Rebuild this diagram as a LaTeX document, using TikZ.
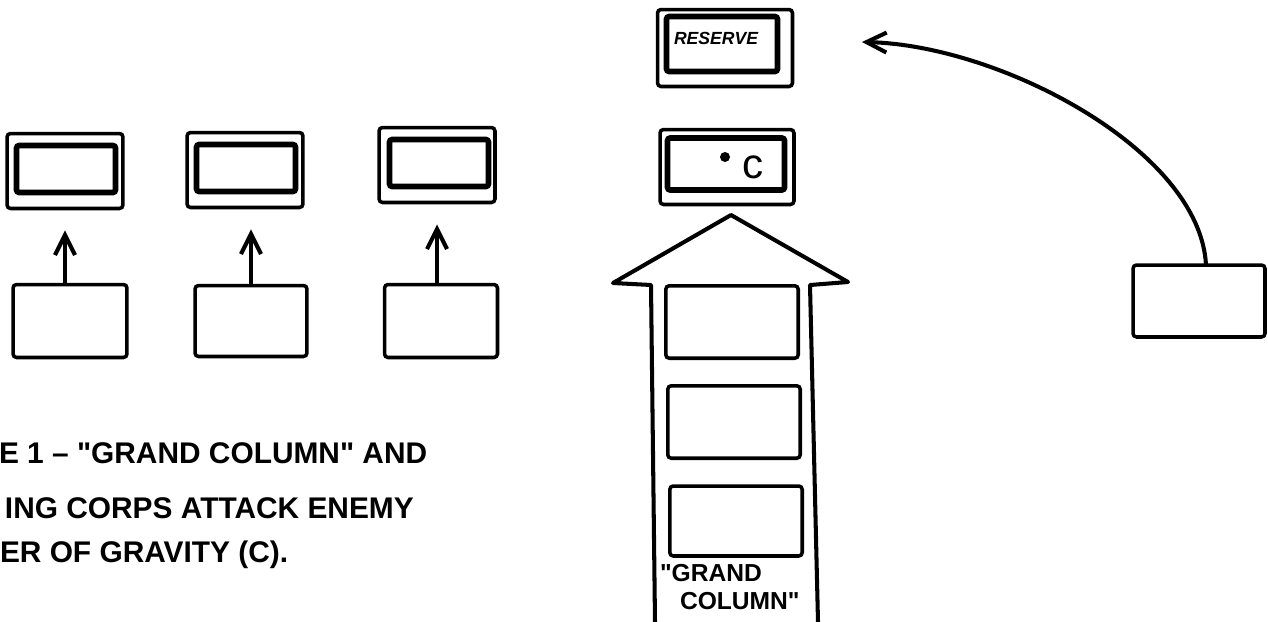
\documentclass[tikz,border=0pt]{standalone}
\usepackage{fontspec}
\setmainfont{Liberation Sans}
\usetikzlibrary{arrows.meta,positioning}

\begin{document}
\begin{tikzpicture}[
  x=0.02cm, y=-0.02cm,
  every node/.style={inner sep=0pt, outer sep=0pt},
  outerbox/.style={draw, line width=2pt, rounded corners=2pt,
                   minimum width=2.32cm, minimum height=1.5cm},
  innerbox/.style={draw, line width=3.2pt, rounded corners=1.5pt,
                   minimum width=1.98cm, minimum height=0.94cm},
  corpsbox/.style={draw, line width=2pt, rounded corners=2pt,
                   minimum width=2.28cm, minimum height=1.46cm},
  colbox/.style={draw, line width=2pt, rounded corners=2pt,
                 minimum width=2.65cm, minimum height=1.45cm},
  march/.style={-{Straight Barb[length=0.4cm,width=0.4cm]}, line width=2.3pt},
  caption/.style={anchor=base west, font=\fontsize{17}{20}\selectfont\bfseries},
]
  \useasboundingbox (0,0) rectangle (1268,622);

  % Enemy front line
  \node[outerbox] (f1) at (65,171) {};
  \node[innerbox] (f1in) at (66,169) {};
  \node[outerbox] (f2) at (245,170) {};
  \node[innerbox] (f2in) at (246,168) {};
  \node[outerbox] (f3) at (437,165) {};
  \node[innerbox] (f3in) at (439,163) {};

  % Center of gravity and reserve
  \node[outerbox, minimum width=2.68cm, minimum height=1.5cm] (cog) at (727,167) {};
  \node[innerbox, minimum width=2.34cm, minimum height=1.04cm] (cogin) at (726,164) {};
  \node[circle, fill, minimum size=0.2cm] (cogdot) at (725,157) {};
  \node[font=\fontsize{24}{24}\selectfont] (cogc) at (753,167) {c};

  \node[outerbox, minimum width=2.7cm, minimum height=1.54cm] (res) at (725,48) {};
  \node[innerbox, minimum width=2.22cm, minimum height=1.1cm] (resin) at (722,44) {};
  \node[font=\fontsize{10}{10}\selectfont\bfseries\itshape] (restext) at (716,38) {RESERVE};

  % Flanking corps
  \node[corpsbox] (l1) at (70,321) {};
  \node[corpsbox, minimum width=2.24cm, minimum height=1.42cm] (l2) at (251,321) {};
  \node[corpsbox, minimum width=2.26cm] (l3) at (441,321) {};

  \draw[march, shorten >=0.44cm] (f1.south |- l1.north) -- (f1.south);
  \draw[march, shorten >=0.44cm] (l2.north) -- (l2.north |- f2.south);
  \draw[march, shorten >=0.44cm] (f3.south |- l3.north) -- (f3.south);

  % Grand column
  \draw[line width=2.3pt, line join=round]
    (655,622) -- (651,285) -- (613,283) -- (731,215) -- (848,282) -- (810,285) -- (818,622);
  \node[colbox] (g1) at (732,322) {};
  \node[colbox] (g2) at (734,422) {};
  \node[colbox, minimum height=1.4cm] (g3) at (736,521) {};
  \node[font=\fontsize{14}{17}\selectfont\bfseries, align=left, anchor=north west] (gclabel)
    at (660,564) {\textquotedbl GRAND\\[-1pt]\hspace{0.4cm}COLUMN\textquotedbl};

  % Corps sent to the reserve
  \node[corpsbox, minimum width=2.64cm, minimum height=1.44cm] (rt) at (1199,301) {};
  \coordinate (restip) at (862,42);
  \draw[march] ([xshift=0.14cm]rt.north) .. controls (1200,150) and (1000,45) .. (restip);

  % Caption
  \node[caption] (cap1) at (-1,463) {E 1 -- \textquotedbl GRAND COLUMN\textquotedbl{} AND};
  \node[caption] (cap2) at (5,518) {ING CORPS ATTACK ENEMY};
  \node[caption] (cap3) at (0,562) {ER OF GRAVITY (C).};
\end{tikzpicture}
\end{document}
